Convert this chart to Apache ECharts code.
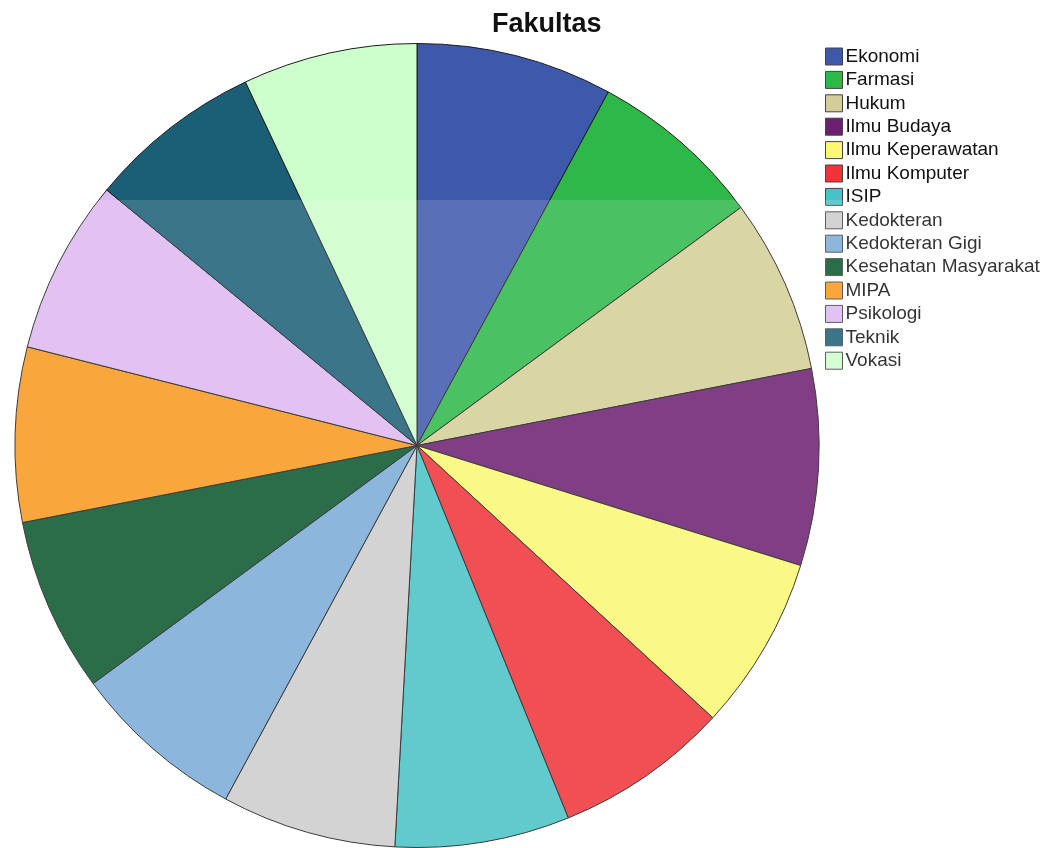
<!DOCTYPE html>
<html>
<head>
<meta charset="utf-8">
<title>Fakultas</title>
<script src="https://cdn.jsdelivr.net/npm/echarts@6/dist/echarts.min.js"></script>
<style>
  html, body { margin: 0; padding: 0; background: #ffffff; }
  #chart { width: 1046px; height: 848px; }
</style>
</head>
<body>
<div id="chart"></div>
<script>
// Faculty categories, in legend order (clockwise from 12 o'clock)
const faculties = [
  'Ekonomi', 'Farmasi', 'Hukum', 'Ilmu Budaya', 'Ilmu Keperawatan',
  'Ilmu Komputer', 'ISIP', 'Kedokteran', 'Kedokteran Gigi',
  'Kesehatan Masyarakat', 'MIPA', 'Psikologi', 'Teknik', 'Vokasi'
];
// Respondent counts per faculty
const counts = [9, 8, 8, 9, 8, 8, 8, 8, 8, 8, 8, 8, 8, 8];
// Slice fill colours
const sliceColors = [
  '#3e58ac', '#2eb848', '#d3ce97', '#6c2070', '#fbf873',
  '#ef3338', '#48c2c5', '#cccccc', '#7aaad5', '#0a562c',
  '#f8981d', '#ddb9f1', '#1a5f76', '#ccffcc'
];

const chart = echarts.init(document.getElementById('chart'), null, { renderer: 'canvas' });

chart.setOption({
  animation: false,
  backgroundColor: '#ffffff',
  title: {
    text: 'Fakultas',
    left: 492,
    top: 11,
    padding: 0,
    textStyle: {
      fontFamily: 'Liberation Sans, Arial, sans-serif',
      fontSize: 27,
      fontWeight: 'bold',
      color: '#111111'
    }
  },
  legend: {
    orient: 'vertical',
    left: 825,
    top: 47,
    padding: 0,
    itemWidth: 17,
    itemHeight: 17,
    itemGap: 4.4,
    icon: 'rect',
    selectedMode: false,
    itemStyle: { borderColor: '#444444', borderWidth: 1 },
    textStyle: {
      fontFamily: 'Liberation Sans, Arial, sans-serif',
      fontSize: 19,
      lineHeight: 17,
      color: '#111111',
      padding: [0, 0, 0, -2]
    },
    data: faculties
  },
  series: [{
    type: 'pie',
    center: [417, 445.5],
    radius: [0, 402],
    startAngle: 90,
    clockwise: true,
    z: 2,
    label: { show: false },
    labelLine: { show: false },
    emphasis: { disabled: true },
    itemStyle: { borderColor: '#1c1c1c', borderWidth: 1 },
    data: faculties.map((name, i) => ({
      name: name,
      value: counts[i],
      itemStyle: { color: sliceColors[i] }
    }))
  }],
  graphic: [{
    // faint haze over the lower part of the page
    type: 'rect',
    z: 10,
    silent: true,
    shape: { x: 0, y: 200, width: 1046, height: 648 },
    style: { fill: 'rgba(255,255,255,0.14)' }
  }]
});
</script>
</body>
</html>
